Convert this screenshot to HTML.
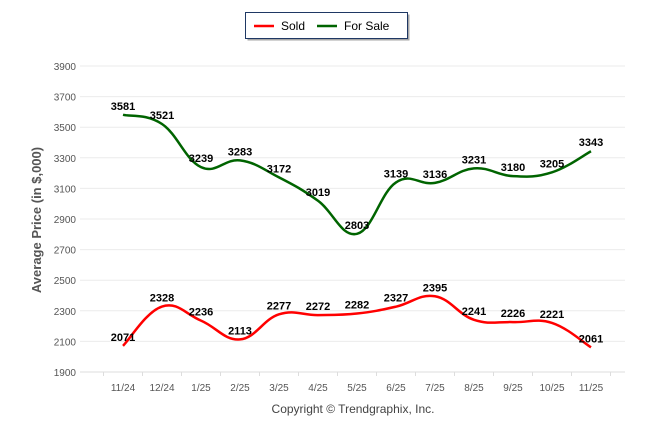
<!DOCTYPE html>
<html><head><meta charset="utf-8"><style>
body{margin:0;background:#fff;width:646px;height:434px;overflow:hidden;font-family:"Liberation Sans",sans-serif}
</style></head><body>
<svg width="646" height="434">
<g>
<rect x="245.5" y="12.5" width="162" height="26" fill="#000" opacity="0.35" transform="translate(2,2)"/>
<rect x="245.5" y="12.5" width="162" height="26" fill="#fff" stroke="#1f3864"/>
<g><line x1="254" y1="26" x2="274" y2="26" stroke="#ff0000" stroke-width="2.5"/><text x="281" y="30" font-size="12">Sold</text></g>
<g><line x1="317" y1="26" x2="337" y2="26" stroke="#006400" stroke-width="2.5"/><text x="344" y="30" font-size="12">For Sale</text></g>
</g>
<g id="grid"></g>
<text transform="translate(41,220) rotate(-90)" text-anchor="middle" font-size="13" font-weight="bold" fill="#555">Average Price (in $,000)</text>
<text x="353" y="413" text-anchor="middle" font-size="12" fill="#444">Copyright © Trendgraphix, Inc.</text>
<g id="series"></g>
</svg>
<script>
const categories=["11/24","12/24","1/25","2/25","3/25","4/25","5/25","6/25","7/25","8/25","9/25","10/25","11/25"];
const soldValues=[2071,2328,2236,2113,2277,2272,2282,2327,2395,2241,2226,2221,2061];
const forSaleValues=[3581,3521,3239,3283,3172,3019,2803,3139,3136,3231,3180,3205,3343];
const yTicks=[1900,2100,2300,2500,2700,2900,3100,3300,3500,3700,3900];
const NS="http://www.w3.org/2000/svg";
const xs=i=>123+i*39;
const ys=v=>372-(v-1900)*306/2000;
function mk(t,a,p){const e=document.createElementNS(NS,t);for(const k in a)e.setAttribute(k,a[k]);p.appendChild(e);return e;}
const grid=document.getElementById('grid');
yTicks.forEach(v=>{
 const l=mk('line',{x1:80,x2:625,y1:ys(v),y2:ys(v),stroke:v===1900?'#ddd':'#ebebeb'},grid);
 
 
 const t=mk('text',{x:76,y:ys(v)+4,'text-anchor':'end','font-size':10,fill:'#555'},grid);
 t.textContent=v;
 
 
});
for(let i=0;i<=categories.length;i++){mk('line',{x1:xs(i)-19.5,x2:xs(i)-19.5,y1:372,y2:376,stroke:'#ddd'},grid);}
categories.forEach((c,i)=>{
 const t=mk('text',{x:xs(i),y:391,'text-anchor':'middle','font-size':10,fill:'#555'},grid);
 t.textContent=c;
 
 
});
function smooth(pts){
 let d=`M${pts[0][0]},${pts[0][1]}`;
 for(let i=0;i<pts.length-1;i++){
  const p0=pts[i-1]||pts[i],p1=pts[i],p2=pts[i+1],p3=pts[i+2]||p2,k=0.2;
  d+=` C${p1[0]+(p2[0]-p0[0])*k},${p1[1]+(p2[1]-p0[1])*k} ${p2[0]-(p3[0]-p1[0])*k},${p2[1]-(p3[1]-p1[1])*k} ${p2[0]},${p2[1]}`;
 }
 return d;
}
const sg=document.getElementById('series');
[[forSaleValues,'#006400','for-sale'],[soldValues,'#ff0000','sold']].forEach(([vals,col,nm])=>{
 const pts=vals.map((v,i)=>[xs(i),ys(v)]);
 const p=mk('path',{d:smooth(pts),fill:'none',stroke:col,'stroke-width':2.5},sg);
 
 
 vals.forEach((v,i)=>{
  const t=mk('text',{x:xs(i),y:ys(v)-5,'text-anchor':'middle','font-size':11,'font-weight':'bold',fill:'#000'},sg);
  t.textContent=v;
  
  
 });
});
</script>
</body></html>
